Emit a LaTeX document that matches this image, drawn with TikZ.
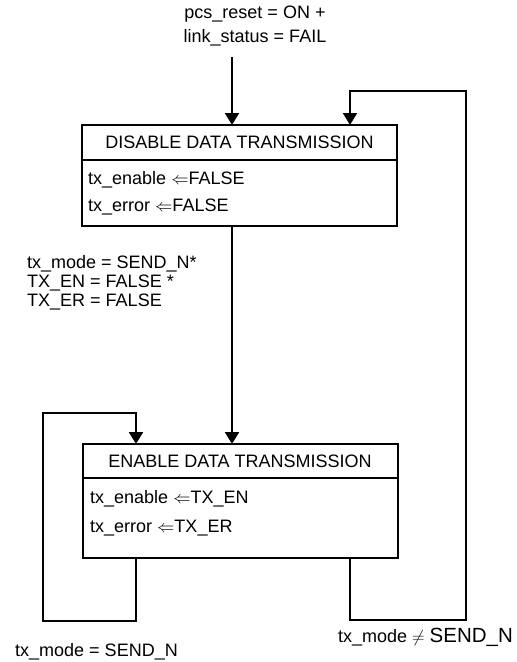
\documentclass[tikz,border=0pt]{standalone}
\usepackage{fontspec}
\setmainfont{Liberation Sans}
\usepackage{tikz}
\usetikzlibrary{arrows.meta, positioning}

\begin{document}
\begin{tikzpicture}[
        x=1pt,y=-1pt,
        hdr/.style={rectangle,draw,line width=2pt,minimum width=315pt,
                    outer sep=0pt,inner sep=0pt,font=\fontsize{18}{21}\selectfont},
        body/.style={rectangle,draw,line width=2pt,minimum width=315pt,
                     outer sep=0pt,inner sep=0pt},
        txt/.style={anchor=west,inner sep=0pt,font=\fontsize{18}{21}\selectfont},
        lbl/.style={inner sep=0pt,font=\fontsize{18}{21}\selectfont},
        arr/.style={-{Triangle[length=12pt,width=14pt]},line width=2pt}
      ]
        \useasboundingbox (0,0) rectangle (517,662);

        \node[lbl,align=center,font=\fontsize{18}{24}\selectfont] (cond) at (255,26)
             {pcs\_reset = ON +\\link\_status = FAIL};

        \node[hdr,minimum height=35pt] (dis) at (239.5,142.5) {DISABLE DATA TRANSMISSION};
        \node[body,minimum height=66pt,below=0pt of dis] (disb) {};
        \node[txt] (dis-en) at (88,180) {tx\_enable $\Leftarrow$FALSE};
        \node[txt] (dis-er) at (88,207) {tx\_error $\Leftarrow$FALSE};

        \node[hdr,minimum height=34pt] (en) at (240,461) {ENABLE DATA TRANSMISSION};
        \node[body,minimum height=80pt,below=0pt of en] (enb) {};
        \node[txt] (en-en) at (90,499) {tx\_enable $\Leftarrow$TX\_EN};
        \node[txt] (en-er) at (90,528) {tx\_error $\Leftarrow$TX\_ER};

        \node[lbl,anchor=west,align=left,font=\fontsize{18}{19}\selectfont] (go) at (27,283)
             {tx\_mode = SEND\_N*\\TX\_EN = FALSE *\\TX\_ER = FALSE};
        \node[lbl] (stay) at (96.5,652) {tx\_mode = SEND\_N};
        \node[lbl,anchor=west] (back) at (338,637)
             {tx\_mode $\neq$ {\fontsize{20.5}{24}\selectfont SEND\_N}};

        \coordinate (start) at (232,57);
        \coordinate (r-bot) at (350,620);
        \coordinate (r-top) at (466,91);
        \coordinate (l-bot) at (43,621);
        \coordinate (l-top) at (136,413);

        \draw[arr] (start) -- (start |- dis.north);
        \draw[arr] (disb.south -| start) -- (en.north -| start);
        \draw[arr] (enb.south -| r-bot) -- (r-bot) -| (r-top) -| (dis.north -| r-bot);
        \draw[arr] (enb.south -| l-top) |- (l-bot) |- (l-top) -- (en.north -| l-top);
      \end{tikzpicture}
\end{document}
